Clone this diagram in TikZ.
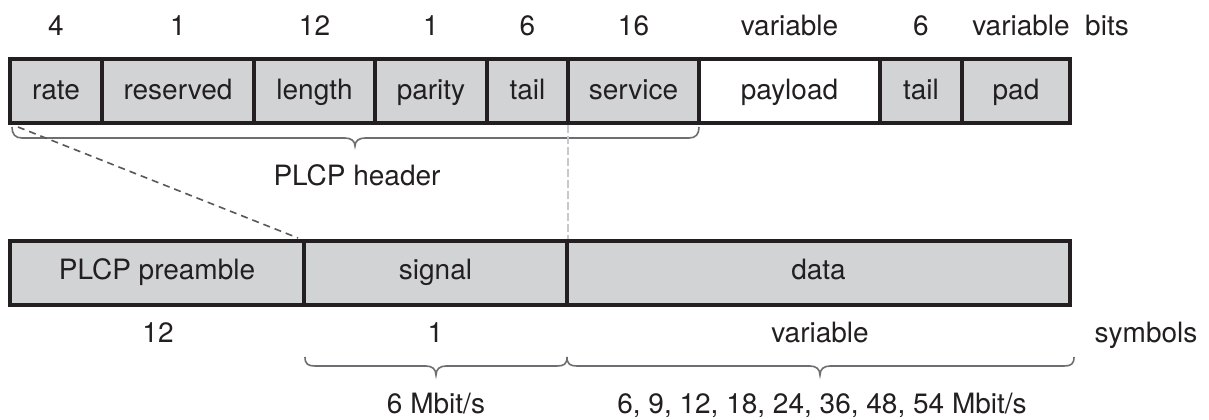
\documentclass[tikz,border=0pt]{standalone}
\usepackage{fontspec}
\setmainfont{TeX Gyre Heros}
\definecolor{ink}{HTML}{231F20}
\definecolor{fieldgray}{HTML}{D1D3D4}
\definecolor{bracegray}{HTML}{6D6E71}
\definecolor{faintgray}{HTML}{C8C9CB}
\begin{document}
\begin{tikzpicture}[x=0.5pt,y=-0.5pt,
  field/.style={draw=ink, line width=2pt, fill=fieldgray, inner sep=0pt,
    minimum height=32pt, text=ink, font=\fontsize{14}{16}\selectfont,
    text height=11.5pt, text depth=3.5pt},
  field2/.style={field, text height=9.5pt},
  lbl/.style={anchor=base, inner sep=0pt, text=ink, font=\fontsize{14}{16}\selectfont},
  bracestyle/.style={draw=bracegray, line width=0.8pt},
  dashline/.style={draw=ink!75, line width=0.8pt, dash pattern=on 3.5pt off 2.5pt},
  faintline/.style={draw=faintgray, line width=0.6pt, dash pattern=on 4pt off 1.5pt}]
\useasboundingbox (0,0) rectangle (1209,419);
% top row
\node[field, minimum width=46pt]   (rate)     at (56,91)    {rate};
\node[field, minimum width=76pt]   (reserved) at (178,91)   {reserved};
\node[field, minimum width=60.5pt] (length)   at (314.5,91) {length};
\node[field, minimum width=56pt]   (parity)   at (431,91)   {parity};
\node[field, minimum width=40.5pt] (tailA)    at (527.5,91) {tail};
\node[field, minimum width=65.5pt] (service)  at (633.5,91) {service};
\node[field, fill=white, minimum width=90.5pt] (payload) at (789.5,91) {payload};
\node[field, minimum width=41pt]   (tailB)    at (921,91)   {tail};
\node[field, minimum width=54pt]   (pad)      at (1016,91)  {pad};
% bottom row
\node[field2, minimum width=147pt]   (preamble) at (157,273)   {PLCP preamble};
\node[field2, minimum width=131.5pt] (signal)   at (435.5,273) {signal};
\node[field2, minimum width=251.5pt] (data)     at (818.5,273) {data};
% reference rows
\coordinate (toprow) at (0,35);
\coordinate (botrow) at (0,342);
% bit counts
\node[lbl] (nrate)  at (rate |- toprow)     {4};
\node[lbl] (nres)   at (reserved |- toprow) {1};
\node[lbl] (nlen)   at (length |- toprow)   {12};
\node[lbl] (npar)   at (parity |- toprow)   {1};
\node[lbl] (ntailA) at (tailA |- toprow)    {6};
\node[lbl] (nserv)  at (service |- toprow)  {16};
\node[lbl] (npay)   at (payload |- toprow)  {variable};
\node[lbl] (ntailB) at (tailB |- toprow)    {6};
\node[lbl] (npad)   at (1021,35)            {variable};
\node[lbl] (nbits)  at (1107,35)            {bits};
% symbol counts
\node[lbl] (spre)  at (158,342)           {12};
\node[lbl] (ssig)  at (signal |- botrow)  {1};
\node[lbl] (sdata) at (820,342)           {variable};
\node[lbl] (ssym)  at (1146,342)          {symbols};
% brace labels
\node[lbl] (hdr)   at (357,185) {PLCP header};
\node[lbl] (rate1) at (436,413) {6 Mbit/s};
\node[lbl] (rate2) at (822,413) {6, 9, 12, 18, 24, 36, 48, 54 Mbit/s};
% braces
\draw[bracestyle] (12,127) .. controls (12,134) and (15,138) .. (22,138) -- (345,138)
  .. controls (351,138) and (355,141) .. (355,146)
  .. controls (355,141) and (359,138) .. (365,138) -- (689,138)
  .. controls (696,138) and (699,134) .. (699,127);
\draw[bracestyle] (305,357) .. controls (305,364) and (308,366) .. (315,366) -- (426,366)
  .. controls (432,366) and (436,369) .. (436,375)
  .. controls (436,369) and (440,366) .. (446,366) -- (557,366)
  .. controls (564,366) and (567,364) .. (567,357);
\draw[bracestyle] (567,357) .. controls (567,364) and (570,366) .. (577,366) -- (810,366)
  .. controls (816,366) and (820,369) .. (820,375)
  .. controls (820,369) and (824,366) .. (830,366) -- (1064,366)
  .. controls (1071,366) and (1074,364) .. (1074,357);
% connectors
\draw[dashline] ([shift={(5pt,-1pt)}]rate.south west) -- ([shift={(-2pt,0.5pt)}]signal.north west);
\draw[faintline] ([xshift=1pt]service.south west) -- ([xshift=1.5pt]data.north west);
\end{tikzpicture}
\end{document}
